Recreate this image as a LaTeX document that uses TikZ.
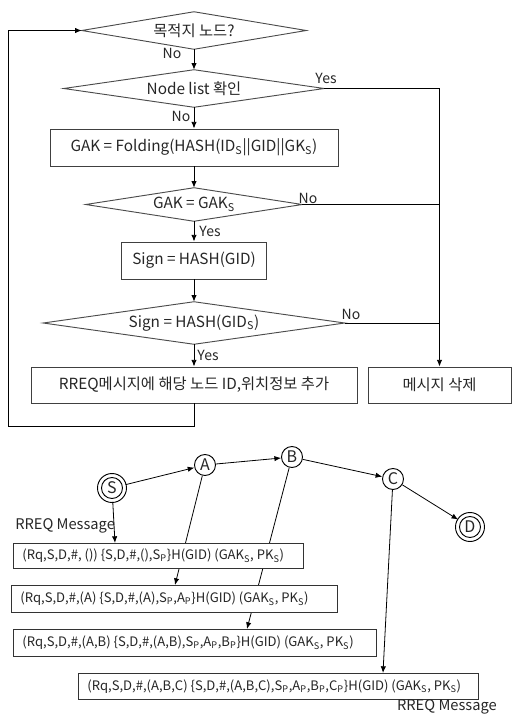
\documentclass[tikz,border=0pt]{standalone}
\usepackage{fontspec}
\setmainfont{Noto Sans CJK KR}
\usetikzlibrary{arrows.meta,calc,backgrounds}
\newcommand\sbs[1]{\textsubscript{#1}}
\newcommand\mtxt[2]{\makebox[#1][l]{#2}}
\begin{document}
\begin{tikzpicture}[x=0.75pt,y=-0.75pt,
  font=\fontsize{11.5}{13}\selectfont, text=black!85,
  dm/.style={draw=none, inner sep=0pt},
  shp/.style={draw=black!70, line width=0.7pt},
  bx/.style={draw=black!75, line width=0.7pt, inner sep=0pt},
  arr/.style={-{Latex[length=5pt,width=4pt]}, line width=0.6pt},
  ln/.style={line width=0.6pt},
  lbl/.style={font=\fontsize{10.5}{12}\selectfont, inner sep=0pt},
  cn/.style={circle, draw, line width=0.7pt, minimum size=15.75pt, inner sep=0pt, font=\fontsize{12}{13}\selectfont},
  dn/.style={cn, outer sep=2.6pt},
  msg/.style={draw=black!80, fill=white, line width=0.7pt, anchor=north west, inner xsep=6.75pt, inner ysep=0pt, font=\fontsize{9.8}{11}\selectfont}
]
\useasboundingbox (0,0) rectangle (512,715);

% ---- flowchart ----
\node[dm, minimum width=168pt, minimum height=27.75pt] (d1) at (194,30.5) {목적지 노드?};
\node[dm, minimum width=195pt, minimum height=27.75pt] (d2) at (194,88.5) {Node list 확인};
\node[bx, minimum width=216pt, minimum height=27.75pt] (b1) at (194,147.5) {GAK = Folding(HASH(ID\sbs{S}\textbar\textbar GID\textbar\textbar GK\sbs{S})};
\node[dm, minimum width=162pt, minimum height=24.75pt] (d3) at (194,204.5) {GAK = GAK\sbs{S}};
\node[bx, minimum width=108.75pt, minimum height=27.75pt] (b2) at (194,260.5) {Sign = HASH(GID)};
\node[dm, minimum width=225.75pt, minimum height=31.5pt] (d4) at (194,323) {Sign = HASH(GID\sbs{S})};
\node[bx, minimum width=244.5pt, minimum height=27pt] (b3) at (194,385) {RREQ메시지에 해당 노드 ID,위치정보 추가};
\node[bx, minimum width=107.25pt, minimum height=27pt] (b4) at (439.5,385) {메시지 삭제};

\foreach \n in {d1,d2,d3,d4}
  \draw[shp] (\n.west) -- (\n.north) -- (\n.east) -- (\n.south) -- cycle;

\draw[arr] (d1.south) -- (d2.north);
\draw[arr] (d2.south) -- (b1.north);
\draw[arr] (b1.south) -- (d3.north);
\draw[arr] (d3.south) -- (b2.north);
\draw[arr] (b2.south) -- (d4.north);
\draw[arr] (d4.south) -- (b3.north);
\draw[arr] (d2.east) -| (b4.north);
\draw[ln] (d3.east) -- (d3.east -| b4.north);
\draw[ln] (d4.east) -- (d4.east -| b4.north);
\coordinate (lp) at (8,426);
\draw[arr] (b3.south) |- (lp) |- (d1.west);

\node[lbl] (n1) at (172,53) {No};
\node[lbl] (n2) at (181,116) {No};
\node[lbl] (y1) at (326,78) {Yes};
\node[lbl] (n3) at (308,198) {No};
\node[lbl] (y2) at (210,231) {Yes};
\node[lbl] (n4) at (351,314) {No};
\node[lbl] (y3) at (208,355) {Yes};

% ---- route ----
\node[dn] (S) at (112,488) {S};
\node[cn] (A) at (205,465) {A};
\node[cn] (B) at (292,457) {B};
\node[cn] (C) at (393,479) {C};
\node[dn] (D) at (470,527) {D};
\draw[line width=0.7pt] (S) circle[radius=14.5];
\draw[line width=0.7pt] (D) circle[radius=14.5];

\draw[arr] (S) -- (A);
\draw[arr] (A) -- (B);
\draw[arr] (B) -- (C);
\draw[arr] (C) -- (D);

\node[msg, minimum height=18.75pt] (M1) at (13,543)
  {\mtxt{204pt}{(Rq,S,D,\#, ()) \{S,D,\#,(),S\sbs{P}\}H(GID) (GAK\sbs{S}, PK\sbs{S})}};
\node[msg, minimum height=20.25pt] (M2) at (11,585)
  {\mtxt{231pt}{(Rq,S,D,\#,(A) \{S,D,\#,(A),S\sbs{P},A\sbs{P}\}H(GID) (GAK\sbs{S}, PK\sbs{S})}};
\node[msg, minimum height=20.25pt] (M3) at (13,629)
  {\mtxt{258.75pt}{(Rq,S,D,\#,(A,B) \{S,D,\#,(A,B),S\sbs{P},A\sbs{P},B\sbs{P}\}H(GID) (GAK\sbs{S}, PK\sbs{S})}};
\node[msg, minimum height=19.5pt] (M4) at (78,673)
  {\mtxt{286.5pt}{(Rq,S,D,\#,(A,B,C) \{S,D,\#,(A,B,C),S\sbs{P},A\sbs{P},B\sbs{P},C\sbs{P}\}H(GID) (GAK\sbs{S}, PK\sbs{S})}};

\node[anchor=west, inner sep=0pt, font=\fontsize{11}{12}\selectfont] (r1) at (15,526) {RREQ Message};
\node[anchor=east, inner sep=0pt, font=\fontsize{11}{12}\selectfont] (r2) at (497,707) {RREQ Message};

\begin{scope}[on background layer]
\draw[arr] (S) -- ($(M1.north west)+(102,0)$);
\draw[arr] (A) -- ($(M2.north west)+(164,0)$);
\draw[arr] (B) -- ($(M3.north west)+(234,0)$);
\draw[arr] (C) -- ($(M4.north west)+(305,0)$);
\end{scope}
\end{tikzpicture}
\end{document}
